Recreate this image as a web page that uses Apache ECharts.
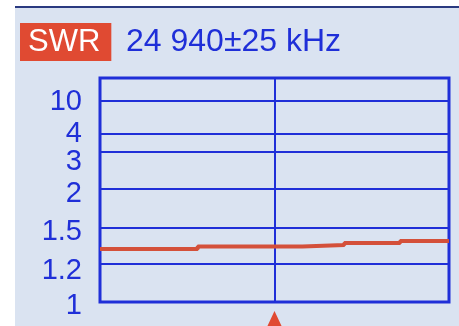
<!DOCTYPE html>
<html><head><meta charset="utf-8">
<script src="https://cdn.jsdelivr.net/npm/echarts@6/dist/echarts.min.js"></script>
<style>html,body{margin:0;padding:0;background:#ffffff;}#c{width:459px;height:326px;}</style>
</head><body><div id="c"></div>
<script>
// Data
const freqKHz = [24915, 24929, 24944, 24950, 24958, 24965];
const swrValues = [1.325, 1.346, 1.358, 1.375, 1.392, 1.392];
// Instrument's nonlinear SWR scale: tick labels and their relative scale positions
const tickValues = [1, 1.2, 1.5, 2, 3, 4, 10];
const tickLabels = ['1', '1.2', '1.5', '2', '3', '4', '10'];
const tickScale = [0, 38, 74, 113, 150, 168, 201];
const scaleTop = 224;
const centerFreq = 24940;
const span = 25;

function toScale(v) {
  for (let i = 0; i < tickValues.length - 1; i++) {
    if (v <= tickValues[i + 1]) {
      const t = (v - tickValues[i]) / (tickValues[i + 1] - tickValues[i]);
      return tickScale[i] + t * (tickScale[i + 1] - tickScale[i]);
    }
  }
  return tickScale[tickScale.length - 1];
}

const BLUE = '#1f2fd8';
const BG = '#dae3f1';
const RED = '#d4503a';
// vertical nudges of the printed labels (styling only)
const labelNudge = [4, 7, 3.5, 5, 10, 0, 1];

const labelBase = {show: true, position: 'start', distance: 18, color: BLUE, fontSize: 29,
  fontFamily: 'Liberation Sans', verticalAlign: 'middle', formatter: p => p.name};

const chart = echarts.init(document.getElementById('c'), null, {renderer: 'canvas'});
const bgGraphics = [
  {type: 'rect', z: -10, shape: {x: 15, y: 8, width: 444, height: 318}, style: {fill: BG}},
  {type: 'rect', z: -9, shape: {x: 15, y: 6, width: 444, height: 2}, style: {fill: '#2a3a80'}}
];
const option = {
  animation: false,
  backgroundColor: '#ffffff',
  graphic: bgGraphics,
  title: [
    {text: 'SWR', left: 20, top: 23, backgroundColor: '#e04a32', padding: [4, 11, 3, 8],
     textStyle: {color: '#ffffff', fontSize: 31, fontWeight: 'normal', fontFamily: 'Liberation Sans', lineHeight: 31}},
    {text: (centerFreq / 1000).toFixed(3).replace('.', ' ') + '±' + span + ' kHz', left: 126, top: 26, padding: 0,
     textStyle: {color: BLUE, fontSize: 32, fontWeight: 'normal', fontFamily: 'Liberation Sans', lineHeight: 32}}
  ],
  grid: {left: 100, right: 10, top: 78, bottom: 24, show: true, borderColor: BLUE, borderWidth: 3, backgroundColor: 'transparent'},
  xAxis: {type: 'value', min: centerFreq - span, max: centerFreq + span, show: false},
  yAxis: {type: 'value', min: 0, max: scaleTop, show: false},
  series: [{
    type: 'line',
    step: 'end',
    symbol: 'none',
    data: freqKHz.map((f, i) => [f, toScale(swrValues[i])]),
    lineStyle: {color: RED, width: 4},
    z: 5,
    markLine: {
      silent: true,
      symbol: 'none',
      animation: false,
      lineStyle: {color: BLUE, width: 2, type: 'solid'},
      label: labelBase,
      data: tickValues.slice(1).map((v, i) => ({name: tickLabels[i + 1], yAxis: tickScale[i + 1],
          label: {offset: [0, labelNudge[i + 1]]}}))
        .concat([{name: '', xAxis: centerFreq, label: {show: false}}])
    }
  }, {
    type: 'line', data: [], symbol: 'none',
    markLine: {
      silent: true, symbol: 'none', animation: false,
      lineStyle: {color: 'transparent', width: 0},
      label: labelBase,
      data: [{name: tickLabels[0], yAxis: tickScale[0], label: {offset: [0, labelNudge[0]]}}]
    }
  }]
};
chart.setOption(option);
const p = chart.convertToPixel({gridIndex: 0}, [centerFreq, 0]);
chart.setOption({graphic: bgGraphics.concat([
  {type: 'polygon', z: 10, shape: {points: [[p[0], p[1] + 9], [p[0] - 8, p[1] + 26], [p[0] + 8, p[1] + 26]]}, style: {fill: '#e04a32'}}
])});
</script></body></html>
